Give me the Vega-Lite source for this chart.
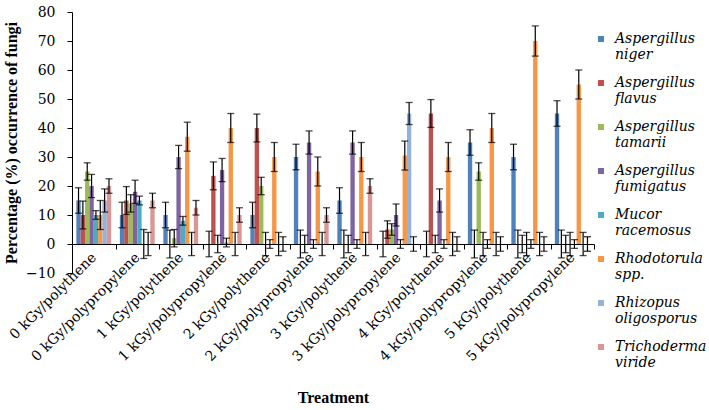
{
  "$schema": "https://vega.github.io/schema/vega-lite/v6.json",
  "width": 522,
  "height": 261,
  "autosize": {"type": "none"},
  "padding": {"left": 72, "top": 12, "right": 115, "bottom": 137},
  "background": "white",
  "config": {
    "font": "DejaVu Serif",
    "view": {"stroke": null},
    "axis": {"grid": false, "domainColor": "black", "tickColor": "black", "labelColor": "black", "titleColor": "black", "labelOverlap": false, "titleFont": "Liberation Serif"}
  },
  "data": {"values": [
    {"t": "0 kGy/polythene", "s": "Aspergillus niger", "v": 15, "lo": 10.6, "hi": 19.4},
    {"t": "0 kGy/polythene", "s": "Aspergillus flavus", "v": 10, "lo": 5.2, "hi": 14.8},
    {"t": "0 kGy/polythene", "s": "Aspergillus tamarii", "v": 25, "lo": 22, "hi": 28},
    {"t": "0 kGy/polythene", "s": "Aspergillus fumigatus", "v": 20, "lo": 16, "hi": 24},
    {"t": "0 kGy/polythene", "s": "Mucor racemosus", "v": 10, "lo": 8.5, "hi": 11.5},
    {"t": "0 kGy/polythene", "s": "Rhodotorula spp.", "v": 10, "lo": 5, "hi": 15},
    {"t": "0 kGy/polythene", "s": "Rhizopus oligosporus", "v": 15, "lo": 11, "hi": 19},
    {"t": "0 kGy/polythene", "s": "Trichoderma viride", "v": 20, "lo": 17.5, "hi": 22.5},
    {"t": "0 kGy/polypropylene", "s": "Aspergillus niger", "v": 10, "lo": 5.6, "hi": 14.4},
    {"t": "0 kGy/polypropylene", "s": "Aspergillus flavus", "v": 15, "lo": 10.2, "hi": 19.8},
    {"t": "0 kGy/polypropylene", "s": "Aspergillus tamarii", "v": 14, "lo": 11, "hi": 17},
    {"t": "0 kGy/polypropylene", "s": "Aspergillus fumigatus", "v": 18, "lo": 14, "hi": 22},
    {"t": "0 kGy/polypropylene", "s": "Mucor racemosus", "v": 15, "lo": 13.5, "hi": 16.5},
    {"t": "0 kGy/polypropylene", "s": "Rhodotorula spp.", "v": 0, "lo": -5, "hi": 5},
    {"t": "0 kGy/polypropylene", "s": "Rhizopus oligosporus", "v": 0, "lo": -4, "hi": 4},
    {"t": "0 kGy/polypropylene", "s": "Trichoderma viride", "v": 15, "lo": 12.5, "hi": 17.5},
    {"t": "1 kGy/polythene", "s": "Aspergillus niger", "v": 10, "lo": 5.6, "hi": 14.4},
    {"t": "1 kGy/polythene", "s": "Aspergillus flavus", "v": 0, "lo": -4.8, "hi": 4.8},
    {"t": "1 kGy/polythene", "s": "Aspergillus tamarii", "v": 2, "lo": -1, "hi": 5},
    {"t": "1 kGy/polythene", "s": "Aspergillus fumigatus", "v": 30, "lo": 26, "hi": 34},
    {"t": "1 kGy/polythene", "s": "Mucor racemosus", "v": 8, "lo": 6.5, "hi": 9.5},
    {"t": "1 kGy/polythene", "s": "Rhodotorula spp.", "v": 37, "lo": 32, "hi": 42},
    {"t": "1 kGy/polythene", "s": "Rhizopus oligosporus", "v": 0, "lo": -4, "hi": 4},
    {"t": "1 kGy/polythene", "s": "Trichoderma viride", "v": 12.5, "lo": 10, "hi": 15},
    {"t": "1 kGy/polypropylene", "s": "Aspergillus niger", "v": 0, "lo": -4.4, "hi": 4.4},
    {"t": "1 kGy/polypropylene", "s": "Aspergillus flavus", "v": 23.5, "lo": 18.7, "hi": 28.3},
    {"t": "1 kGy/polypropylene", "s": "Aspergillus tamarii", "v": 0, "lo": -3, "hi": 3},
    {"t": "1 kGy/polypropylene", "s": "Aspergillus fumigatus", "v": 25.5, "lo": 21.5, "hi": 29.5},
    {"t": "1 kGy/polypropylene", "s": "Mucor racemosus", "v": 0.5, "lo": -1, "hi": 2},
    {"t": "1 kGy/polypropylene", "s": "Rhodotorula spp.", "v": 40, "lo": 35, "hi": 45},
    {"t": "1 kGy/polypropylene", "s": "Rhizopus oligosporus", "v": 0, "lo": -4, "hi": 4},
    {"t": "1 kGy/polypropylene", "s": "Trichoderma viride", "v": 10, "lo": 7.5, "hi": 12.5},
    {"t": "2 kGy/polythene", "s": "Aspergillus niger", "v": 10, "lo": 5.6, "hi": 14.4},
    {"t": "2 kGy/polythene", "s": "Aspergillus flavus", "v": 40, "lo": 35.2, "hi": 44.8},
    {"t": "2 kGy/polythene", "s": "Aspergillus tamarii", "v": 20, "lo": 17, "hi": 23},
    {"t": "2 kGy/polythene", "s": "Aspergillus fumigatus", "v": 0, "lo": -4, "hi": 4},
    {"t": "2 kGy/polythene", "s": "Mucor racemosus", "v": 0, "lo": -1.5, "hi": 1.5},
    {"t": "2 kGy/polythene", "s": "Rhodotorula spp.", "v": 30, "lo": 25, "hi": 35},
    {"t": "2 kGy/polythene", "s": "Rhizopus oligosporus", "v": 0, "lo": -4, "hi": 4},
    {"t": "2 kGy/polythene", "s": "Trichoderma viride", "v": 0, "lo": -2.5, "hi": 2.5},
    {"t": "2 kGy/polypropylene", "s": "Aspergillus niger", "v": 30, "lo": 25.6, "hi": 34.4},
    {"t": "2 kGy/polypropylene", "s": "Aspergillus flavus", "v": 0, "lo": -4.8, "hi": 4.8},
    {"t": "2 kGy/polypropylene", "s": "Aspergillus tamarii", "v": 0, "lo": -3, "hi": 3},
    {"t": "2 kGy/polypropylene", "s": "Aspergillus fumigatus", "v": 35, "lo": 31, "hi": 39},
    {"t": "2 kGy/polypropylene", "s": "Mucor racemosus", "v": 0, "lo": -1.5, "hi": 1.5},
    {"t": "2 kGy/polypropylene", "s": "Rhodotorula spp.", "v": 25, "lo": 20, "hi": 30},
    {"t": "2 kGy/polypropylene", "s": "Rhizopus oligosporus", "v": 0, "lo": -4, "hi": 4},
    {"t": "2 kGy/polypropylene", "s": "Trichoderma viride", "v": 10, "lo": 7.5, "hi": 12.5},
    {"t": "3 kGy/polythene", "s": "Aspergillus niger", "v": 15, "lo": 10.6, "hi": 19.4},
    {"t": "3 kGy/polythene", "s": "Aspergillus flavus", "v": 0, "lo": -4.8, "hi": 4.8},
    {"t": "3 kGy/polythene", "s": "Aspergillus tamarii", "v": 0, "lo": -3, "hi": 3},
    {"t": "3 kGy/polythene", "s": "Aspergillus fumigatus", "v": 35, "lo": 31, "hi": 39},
    {"t": "3 kGy/polythene", "s": "Mucor racemosus", "v": 0, "lo": -1.5, "hi": 1.5},
    {"t": "3 kGy/polythene", "s": "Rhodotorula spp.", "v": 30, "lo": 25, "hi": 35},
    {"t": "3 kGy/polythene", "s": "Rhizopus oligosporus", "v": 0, "lo": -4, "hi": 4},
    {"t": "3 kGy/polythene", "s": "Trichoderma viride", "v": 20, "lo": 17.5, "hi": 22.5},
    {"t": "3 kGy/polypropylene", "s": "Aspergillus niger", "v": 0, "lo": -4.4, "hi": 4.4},
    {"t": "3 kGy/polypropylene", "s": "Aspergillus flavus", "v": 5, "lo": 2, "hi": 8},
    {"t": "3 kGy/polypropylene", "s": "Aspergillus tamarii", "v": 5, "lo": 3, "hi": 7},
    {"t": "3 kGy/polypropylene", "s": "Aspergillus fumigatus", "v": 10, "lo": 6.2, "hi": 13.8},
    {"t": "3 kGy/polypropylene", "s": "Mucor racemosus", "v": 0, "lo": -1.5, "hi": 1.5},
    {"t": "3 kGy/polypropylene", "s": "Rhodotorula spp.", "v": 30.5, "lo": 25.5, "hi": 35.5},
    {"t": "3 kGy/polypropylene", "s": "Rhizopus oligosporus", "v": 45, "lo": 41.2, "hi": 48.8},
    {"t": "3 kGy/polypropylene", "s": "Trichoderma viride", "v": 0, "lo": -2.5, "hi": 2.5},
    {"t": "4 kGy/polythene", "s": "Aspergillus niger", "v": 0, "lo": -4.4, "hi": 4.4},
    {"t": "4 kGy/polythene", "s": "Aspergillus flavus", "v": 45, "lo": 40.2, "hi": 49.8},
    {"t": "4 kGy/polythene", "s": "Aspergillus tamarii", "v": 0, "lo": -3, "hi": 3},
    {"t": "4 kGy/polythene", "s": "Aspergillus fumigatus", "v": 15, "lo": 11, "hi": 19},
    {"t": "4 kGy/polythene", "s": "Mucor racemosus", "v": 0, "lo": -1.5, "hi": 1.5},
    {"t": "4 kGy/polythene", "s": "Rhodotorula spp.", "v": 30, "lo": 25, "hi": 35},
    {"t": "4 kGy/polythene", "s": "Rhizopus oligosporus", "v": 0, "lo": -4, "hi": 4},
    {"t": "4 kGy/polythene", "s": "Trichoderma viride", "v": 0, "lo": -2.5, "hi": 2.5},
    {"t": "4 kGy/polypropylene", "s": "Aspergillus niger", "v": 35, "lo": 30.6, "hi": 39.4},
    {"t": "4 kGy/polypropylene", "s": "Aspergillus flavus", "v": 0, "lo": -4.8, "hi": 4.8},
    {"t": "4 kGy/polypropylene", "s": "Aspergillus tamarii", "v": 25, "lo": 22, "hi": 28},
    {"t": "4 kGy/polypropylene", "s": "Aspergillus fumigatus", "v": 0, "lo": -4, "hi": 4},
    {"t": "4 kGy/polypropylene", "s": "Mucor racemosus", "v": 0, "lo": -1.5, "hi": 1.5},
    {"t": "4 kGy/polypropylene", "s": "Rhodotorula spp.", "v": 40, "lo": 35, "hi": 45},
    {"t": "4 kGy/polypropylene", "s": "Rhizopus oligosporus", "v": 0, "lo": -4, "hi": 4},
    {"t": "4 kGy/polypropylene", "s": "Trichoderma viride", "v": 0, "lo": -2.5, "hi": 2.5},
    {"t": "5 kGy/polythene", "s": "Aspergillus niger", "v": 30, "lo": 25.6, "hi": 34.4},
    {"t": "5 kGy/polythene", "s": "Aspergillus flavus", "v": 0, "lo": -4.8, "hi": 4.8},
    {"t": "5 kGy/polythene", "s": "Aspergillus tamarii", "v": 0, "lo": -3, "hi": 3},
    {"t": "5 kGy/polythene", "s": "Aspergillus fumigatus", "v": 0, "lo": -4, "hi": 4},
    {"t": "5 kGy/polythene", "s": "Mucor racemosus", "v": 0, "lo": -1.5, "hi": 1.5},
    {"t": "5 kGy/polythene", "s": "Rhodotorula spp.", "v": 70, "lo": 64.8, "hi": 75.2},
    {"t": "5 kGy/polythene", "s": "Rhizopus oligosporus", "v": 0, "lo": -4, "hi": 4},
    {"t": "5 kGy/polythene", "s": "Trichoderma viride", "v": 0, "lo": -2.5, "hi": 2.5},
    {"t": "5 kGy/polypropylene", "s": "Aspergillus niger", "v": 45, "lo": 40.6, "hi": 49.4},
    {"t": "5 kGy/polypropylene", "s": "Aspergillus flavus", "v": 0, "lo": -4.8, "hi": 4.8},
    {"t": "5 kGy/polypropylene", "s": "Aspergillus tamarii", "v": 0, "lo": -3, "hi": 3},
    {"t": "5 kGy/polypropylene", "s": "Aspergillus fumigatus", "v": 0, "lo": -4, "hi": 4},
    {"t": "5 kGy/polypropylene", "s": "Mucor racemosus", "v": 0, "lo": -1.5, "hi": 1.5},
    {"t": "5 kGy/polypropylene", "s": "Rhodotorula spp.", "v": 55, "lo": 50, "hi": 60},
    {"t": "5 kGy/polypropylene", "s": "Rhizopus oligosporus", "v": 0, "lo": -4, "hi": 4},
    {"t": "5 kGy/polypropylene", "s": "Trichoderma viride", "v": 0, "lo": -2.5, "hi": 2.5}
  ]},
  "encoding": {
    "x": {
      "field": "t", "type": "nominal", "sort": null,
      "scale": {"paddingInner": 0, "paddingOuter": 0},
      "axis": {
        "title": "Treatment", "titleFontSize": 16, "titleFontWeight": "bold", "titlePadding": 26,
        "offset": -29, "labelAngle": -45, "labelAlign": "right", "labelBaseline": "middle",
        "labelFontSize": 14, "labelPadding": 6, "tickBand": "extent", "tickSize": 5,
        "labelLimit": 300, "labelOverlap": false
      }
    },
    "xOffset": {
      "field": "s", "type": "nominal", "sort": null,
      "scale": {"paddingInner": 0, "paddingOuter": 1}
    }
  },
  "layer": [
    {
      "mark": {"type": "bar"},
      "encoding": {
        "y": {
          "field": "v", "type": "quantitative",
          "scale": {"domain": [-10, 80], "nice": false, "zero": false},
          "axis": {
            "title": "Percentage (%) occurrence of fungi", "titleFontSize": 16, "titleFontWeight": "bold",
            "titlePadding": 6, "values": [-10, 0, 10, 20, 30, 40, 50, 60, 70, 80], "tickCount": 10,
            "labelFontSize": 14, "labelPadding": 12, "tickSize": 5, "labelOverlap": false, "labelBound": false, "labelFlush": false
          }
        },
        "color": {
          "field": "s", "type": "nominal", "sort": null,
          "scale": {
            "domain": ["Aspergillus niger", "Aspergillus flavus", "Aspergillus tamarii", "Aspergillus fumigatus", "Mucor racemosus", "Rhodotorula spp.", "Rhizopus oligosporus", "Trichoderma viride"],
            "range": ["#4F81BD", "#C0504D", "#9BBB59", "#8064A2", "#4BACC6", "#F79646", "#95B3D7", "#D99694"]
          },
          "legend": {
            "title": null, "orient": "none", "legendX": 522, "legendY": 20,
            "symbolType": "square", "symbolSize": 36, "symbolStrokeWidth": 0,
            "labelFont": "DejaVu Serif", "labelFontStyle": "italic", "labelFontSize": 14,
            "labelExpr": "split(datum.label, ' ')",
            "labelBaseline": "middle", "labelOffset": 7,
            "labelLimit": 200, "rowPadding": 14, "padding": 0
          }
        }
      }
    },
    {
      "mark": {"type": "rule", "color": "black", "strokeWidth": 1.2},
      "encoding": {
        "y": {
          "field": "lo", "type": "quantitative",
          "axis": {
            "title": "Percentage (%) occurrence of fungi", "titleFontSize": 16, "titleFontWeight": "bold",
            "titlePadding": 6, "values": [-10, 0, 10, 20, 30, 40, 50, 60, 70, 80], "tickCount": 10,
            "labelFontSize": 14, "labelPadding": 12, "tickSize": 5, "labelOverlap": false, "labelBound": false, "labelFlush": false
          }
        },
        "y2": {"field": "hi"}
      }
    },
    {
      "mark": {"type": "tick", "color": "black", "size": 7, "thickness": 1.3},
      "encoding": {"y": {"field": "lo", "type": "quantitative"}}
    },
    {
      "mark": {"type": "tick", "color": "black", "size": 7, "thickness": 1.3},
      "encoding": {"y": {"field": "hi", "type": "quantitative"}}
    }
  ]
}
